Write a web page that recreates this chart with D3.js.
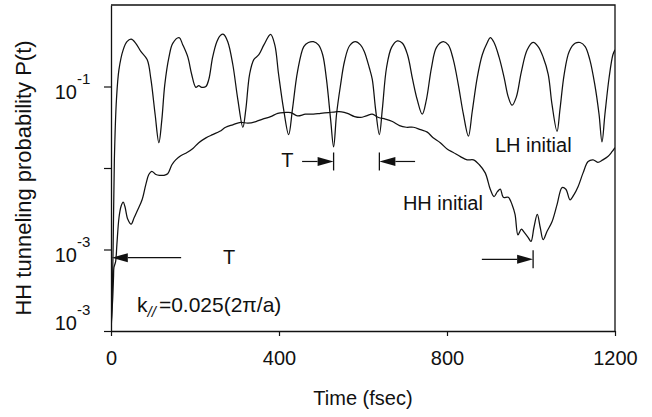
<!DOCTYPE html>
<html><head><meta charset="utf-8">
<script src="https://cdn.jsdelivr.net/npm/d3@7"></script>
<style>
body{margin:0;background:#fff}
svg{display:block}
text{font-family:"Liberation Sans",Arial,Helvetica,sans-serif;fill:#111}
</style>
</head><body>
<svg id="chart" width="652" height="417"></svg>
<script>
// ---- data (time in fsec, log10 of tunneling probability) ----
const lhTime = [0,1,5,8,13,19,29,38,48,59,71,86,95,105,114,121,128,138,147,162,171,183,192,202,209,216,226,233,242,252,261,268,278,290,302,314,321,330,340,352,364,380,390,399,411,423,432,444,459,470,482,494,504,513,523,530,537,546,556,568,582,594,603,615,622,630,639,646,656,668,682,694,706,718,729,741,751,763,775,791,803,815,827,839,851,860,872,884,896,903,912,924,936,946,955,965,977,991,1005,1017,1029,1041,1050,1062,1069,1079,1091,1105,1117,1129,1140,1152,1162,1169,1176,1186,1195,1200];
const lhLog10P = [-3.95,-3.9,-3.0,-1.9,-1.16,-0.79,-0.55,-0.45,-0.42,-0.47,-0.57,-0.67,-0.91,-1.34,-1.69,-1.41,-0.98,-0.64,-0.47,-0.40,-0.49,-0.64,-0.85,-1.01,-0.99,-1.01,-1.0,-0.91,-0.64,-0.45,-0.37,-0.36,-0.45,-0.73,-1.16,-1.50,-1.28,-0.85,-0.67,-0.61,-0.49,-0.36,-0.49,-0.85,-1.28,-1.59,-1.28,-0.82,-0.51,-0.46,-0.45,-0.49,-0.61,-0.91,-1.41,-1.74,-1.34,-1.0,-0.69,-0.50,-0.45,-0.49,-0.57,-0.77,-0.91,-1.28,-1.59,-1.28,-0.77,-0.52,-0.44,-0.47,-0.61,-0.91,-1.16,-1.34,-1.16,-0.77,-0.52,-0.45,-0.49,-0.67,-0.98,-1.34,-1.61,-1.31,-0.89,-0.61,-0.46,-0.40,-0.46,-0.64,-0.89,-1.13,-1.23,-1.13,-0.82,-0.55,-0.46,-0.51,-0.64,-0.85,-1.22,-1.55,-1.28,-0.85,-0.57,-0.47,-0.46,-0.51,-0.67,-0.98,-1.34,-1.68,-1.34,-0.89,-0.61,-0.55];

const hhTime = [0,4,6,7,11,14,19,24,29,33,40,48,55,64,74,83,90,97,107,116,126,135,145,154,166,181,195,209,226,242,259,273,290,309,326,345,361,380,397,413,428,444,463,482,499,518,535,549,563,580,594,608,622,637,653,670,687,703,720,737,753,767,784,801,815,832,848,863,877,891,903,912,920,927,934,946,955,962,969,977,984,993,1000,1007,1015,1022,1029,1038,1050,1062,1074,1083,1093,1102,1112,1124,1136,1148,1159,1171,1183,1193,1200];
const hhLog10P = [-3.95,-3.61,-3.34,-3.22,-3.15,-2.94,-2.61,-2.47,-2.42,-2.47,-2.63,-2.69,-2.61,-2.51,-2.39,-2.20,-2.08,-2.04,-2.08,-2.09,-2.09,-2.07,-1.96,-1.90,-1.85,-1.81,-1.76,-1.69,-1.63,-1.59,-1.55,-1.50,-1.47,-1.44,-1.45,-1.43,-1.40,-1.37,-1.33,-1.32,-1.32,-1.36,-1.34,-1.34,-1.33,-1.32,-1.31,-1.31,-1.33,-1.37,-1.38,-1.36,-1.34,-1.38,-1.40,-1.43,-1.48,-1.50,-1.50,-1.53,-1.56,-1.63,-1.69,-1.77,-1.81,-1.86,-1.90,-1.90,-1.96,-2.06,-2.26,-2.35,-2.29,-2.26,-2.36,-2.36,-2.45,-2.57,-2.82,-2.75,-2.79,-2.85,-2.90,-2.73,-2.57,-2.73,-2.88,-2.78,-2.66,-2.45,-2.24,-2.26,-2.39,-2.33,-2.23,-2.06,-1.92,-1.90,-1.93,-1.90,-1.86,-1.80,-1.75];

const xTickValues = [0, 400, 800, 1200];
const yTickValues = [1e-1, 1e-2, 1e-3, 1e-4];
const yTickBase = ["10", "", "10", "10"];
const yTickExp = ["-1", "", "-3", "-3"];
const xDomain = [0, 1200];
const yDomain = [1e-4, 1];

// period markers: time of arrow tail, time of arrow tip, log10 P level, end bar
const arrowTail = [455, 724, 167, 883];
const arrowTip  = [530, 639, 2, 1005];
const arrowLevel = [-1.92, -1.92, -3.10, -3.12];
const arrowBar = [true, true, false, true];

const labelText = ["T", "T", "LH initial", "HH initial"];
const labelTime = [420, 281, 914, 695];
const labelLevel = [-1.92, -3.10, -1.80, -2.51];

// ---- drawing ----
const svg = d3.select("#chart");
const W = 652, H = 417;
const plot = {left: 111, right: 615, top: 5, bottom: 331};

const x = d3.scaleLinear().domain(xDomain).range([plot.left, plot.right]);
const y = d3.scaleLog().domain(yDomain).range([plot.bottom, plot.top]);

svg.append("rect").attr("width", W).attr("height", H).attr("fill", "#fff");

svg.append("defs").append("clipPath").attr("id", "clip")
  .append("rect").attr("x", plot.left).attr("y", plot.top)
  .attr("width", plot.right - plot.left).attr("height", plot.bottom - plot.top);

// frame (top & right)
svg.append("path")
  .attr("d", `M${plot.left},${plot.top}H${plot.right}V${plot.bottom}`)
  .attr("fill", "none").attr("stroke", "#111").attr("stroke-width", 1.3);

// x axis
const gx = svg.append("g").attr("transform", `translate(0,${plot.bottom})`)
  .call(d3.axisBottom(x).tickValues(xTickValues).tickSize(5).tickSizeOuter(0)
        .tickPadding(15).tickFormat(d3.format("d")));
gx.selectAll("text").attr("font-size", 20).attr("fill", "#111")
  .attr("font-family", '"Liberation Sans",Arial,sans-serif');

// y axis
const gy = svg.append("g").attr("transform", `translate(${plot.left},0)`)
  .call(d3.axisLeft(y).tickValues(yTickValues).tickSize(7).tickSizeOuter(0).tickFormat(""));
[gx, gy].forEach(g => {
  g.select(".domain").attr("stroke", "#111").attr("stroke-width", 1.3);
  g.selectAll(".tick line").attr("stroke", "#111").attr("stroke-width", 1.2);
});

// y tick labels with superscripts (the one at the axis end sits above the x axis)
yTickValues.forEach((v, i) => {
  if (!yTickBase[i]) return;
  const atEnd = i === yTickValues.length - 1;
  const base = y(v) + (atEnd ? -1 : 12);
  svg.append("text")
    .attr("x", plot.left - 34).attr("y", base)
    .attr("text-anchor", "end").attr("font-size", 20).text(yTickBase[i]);
  svg.append("text")
    .attr("x", plot.left - 34).attr("y", base - 15)
    .attr("font-size", 15).text(yTickExp[i]);
});

// axis titles
svg.append("text").attr("x", (plot.left + plot.right) / 2).attr("y", 405)
  .attr("text-anchor", "middle").attr("font-size", 20).text("Time (fsec)");
svg.append("text")
  .attr("transform", `translate(31,${(plot.top + plot.bottom) / 2 + 10}) rotate(-90)`)
  .attr("text-anchor", "middle").attr("font-size", 22)
  .text("HH tunneling probability P(t)");

// curves
const line = d3.line()
  .x(d => x(d.t)).y(d => y(d.p))
  .curve(d3.curveCatmullRom.alpha(0.5));
const lhData = lhTime.map((t, i) => ({t, p: Math.pow(10, lhLog10P[i])}));
const hhData = hhTime.map((t, i) => ({t, p: Math.pow(10, hhLog10P[i])}));
const curves = svg.append("g").attr("clip-path", "url(#clip)");
[lhData, hhData].forEach(data => {
  curves.append("path").datum(data).attr("d", line)
    .attr("fill", "none").attr("stroke", "#111").attr("stroke-width", 1.25)
    .attr("stroke-linejoin", "round");
});

// period arrows
arrowTail.forEach((tail, i) => {
  const yy = y(Math.pow(10, arrowLevel[i]));
  const x0 = x(tail), x1 = x(arrowTip[i]);
  const dir = Math.sign(x1 - x0);
  const headLen = 16, headHalf = 4.5;
  svg.append("line").attr("x1", x0).attr("x2", x1 - dir * headLen)
    .attr("y1", yy).attr("y2", yy).attr("stroke", "#111").attr("stroke-width", 1.2);
  svg.append("path")
    .attr("d", `M${x1},${yy}L${x1 - dir * headLen},${yy - headHalf}L${x1 - dir * headLen},${yy + headHalf}Z`)
    .attr("fill", "#111");
  if (arrowBar[i]) {
    svg.append("line").attr("x1", x1).attr("x2", x1)
      .attr("y1", yy - 9).attr("y2", yy + 9)
      .attr("stroke", "#111").attr("stroke-width", 1.3);
  }
});

// text labels
labelText.forEach((txt, i) => {
  svg.append("text").attr("x", x(labelTime[i]))
    .attr("y", y(Math.pow(10, labelLevel[i])) + (i < 2 ? 6 : 0))
    .attr("text-anchor", i < 2 ? "middle" : "start")
    .attr("font-size", 20).text(txt);
});

// k parallel label
const kLabel = svg.append("text").attr("x", x(62)).attr("y", y(Math.pow(10, -3.77)))
  .attr("font-size", 21);
kLabel.append("tspan").text("k");
kLabel.append("tspan").attr("font-size", 15).attr("font-style", "italic")
  .attr("dy", 5).attr("dx", 0).text("//");
kLabel.append("tspan").attr("dy", -5).attr("dx", 3).text("=0.025(2π/a)");
</script>
</body></html>
